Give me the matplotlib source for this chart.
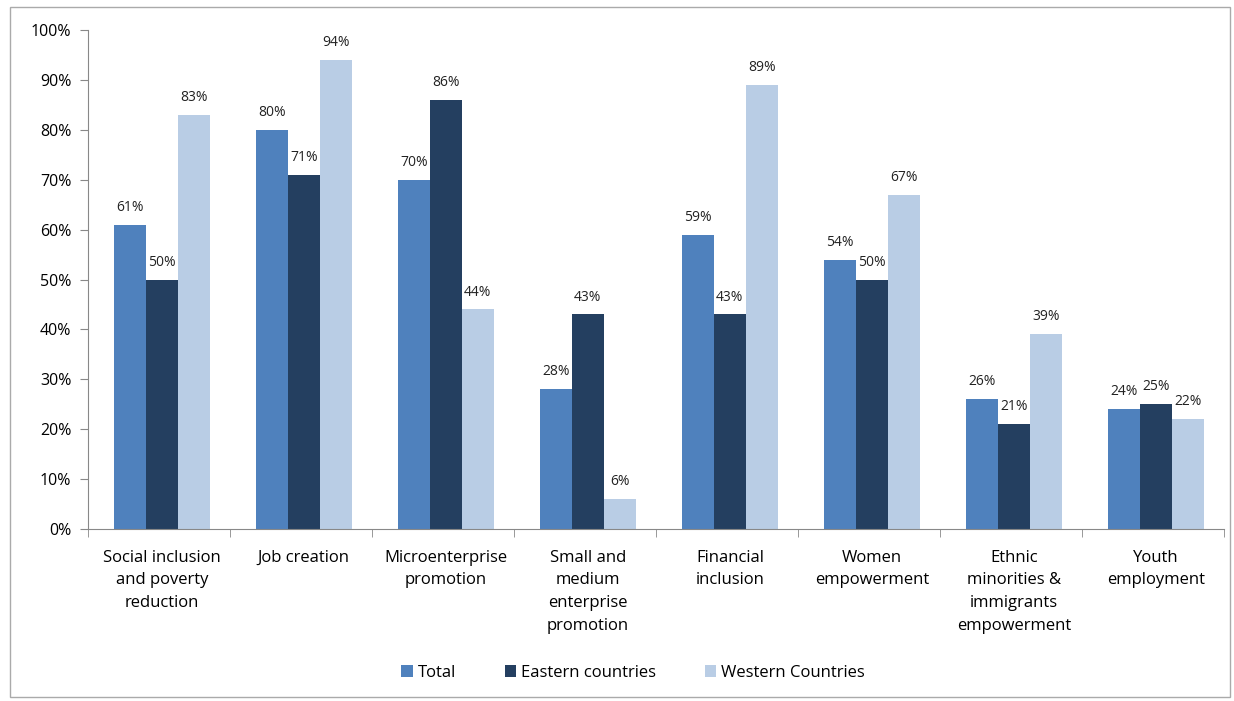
import numpy as np
import matplotlib.pyplot as plt
from matplotlib.patches import Rectangle

categories = ["Social inclusion\nand poverty\nreduction", "Job creation", "Microenterprise\npromotion",
              "Small and\nmedium\nenterprise\npromotion", "Financial\ninclusion", "Women\nempowerment",
              "Ethnic\nminorities &\nimmigrants\nempowerment", "Youth\nemployment"]
total = [61, 80, 70, 28, 59, 54, 26, 24]
eastern = [50, 71, 86, 43, 43, 50, 21, 25]
western = [83, 94, 44, 6, 89, 67, 39, 22]
series_names = ["Total", "Eastern countries", "Western Countries"]
colors = ["#4F81BD", "#243F60", "#B9CDE5"]

plt.rcParams['font.family'] = ['Open Sans', 'DejaVu Sans']

fig = plt.figure(figsize=(12.34, 7.01), dpi=100)
ax = fig.add_axes([0.0713, 0.2454, 0.9207, 0.7116])

x = np.arange(len(categories))
w = 0.225
for i, (vals, name, c) in enumerate(zip([total, eastern, western], series_names, colors)):
    pos = x + (i - 1) * w + 0.02
    ax.bar(pos, vals, width=w, color=c, label=name)
    for p, v in zip(pos, vals):
        ax.text(p, v + 2.0, f"{v}%", ha='center', va='bottom', fontsize=10, color='#222222')

ax.set_xlim(-0.5, len(categories) - 0.5)
ax.set_ylim(0, 100)
ax.set_yticks(np.arange(0, 101, 10))
ax.set_yticklabels([f"{t}%" for t in range(0, 101, 10)], fontsize=11.5)
ax.set_xticks(x + 0.02)
ax.set_xticklabels(categories, fontsize=12, linespacing=1.55, va='top')
ax.set_xticks(np.arange(-0.5, len(categories)), minor=True)
ax.tick_params(axis='x', which='major', length=0, pad=15)
ax.tick_params(axis='x', which='minor', length=6, color='#888888', direction='out')
ax.tick_params(axis='y', length=6, color='#888888', pad=6)
for s in ['top', 'right']:
    ax.spines[s].set_visible(False)
for s in ['left', 'bottom']:
    ax.spines[s].set_color('#888888')

fig.legend(loc='center', bbox_to_anchor=(0.513, 0.04), ncol=3, frameon=False, fontsize=12,
           handlelength=0.7, handleheight=0.7, handletextpad=0.3, columnspacing=2.9)

fig.patches.append(Rectangle((10 / 1234, 4 / 701), 1220 / 1234, 690 / 701, transform=fig.transFigure,
                             fill=False, edgecolor='#aaaaaa', linewidth=1))

fig.savefig("out.png", dpi=100)
